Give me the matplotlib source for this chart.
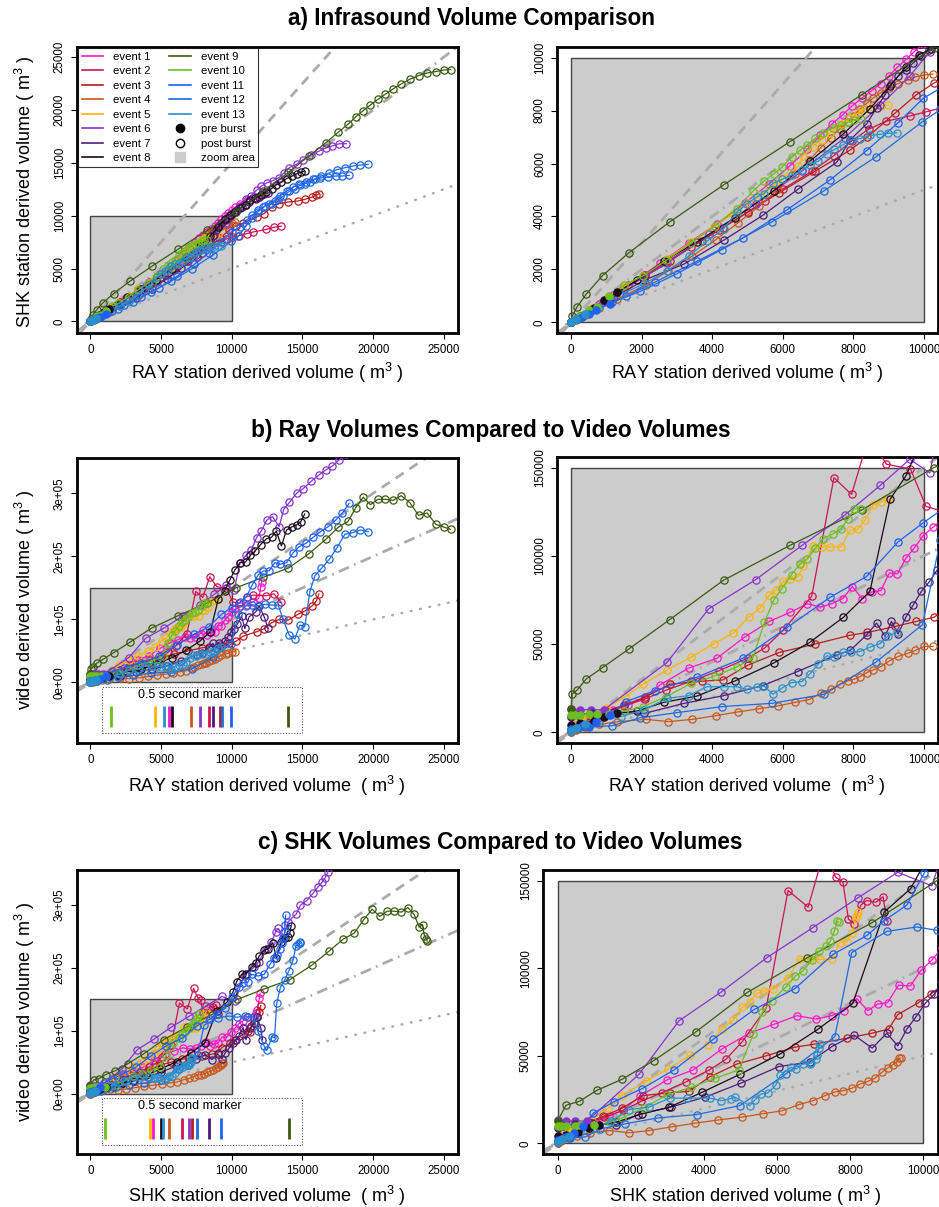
import numpy as np
import matplotlib
matplotlib.use('Agg')
import matplotlib.pyplot as plt
from matplotlib.patches import Rectangle
from matplotlib.lines import Line2D

plt.rcParams['font.family'] = ['Liberation Sans', 'DejaVu Sans']
plt.rcParams['mathtext.fontset'] = 'custom'
plt.rcParams['mathtext.rm'] = 'Liberation Sans'
plt.rcParams['mathtext.it'] = 'Liberation Sans:italic'

# per event: RAY volume, SHK volume, video volume (m^3), one value per frame
e1_ray = [0, 60, 150, 300, 500, 800, 1200, 1600, 2060, 2530, 3330, 4130, 4920, 5620, 6210, 6700, 7060, 7390, 7700, 7970,
          8250, 8520, 8780, 9020, 9250, 9490, 9730, 9980, 10250, 10570, 11040, 11500, 11910, 12050, 12120]
e1_shk = [0, 50, 130, 260, 440, 700, 1050, 1400, 1800, 2250, 3000, 3710, 4500, 5240, 5920, 6540, 7060, 7490, 7840, 8180,
          8480, 8750, 9020, 9320, 9640, 9930, 10230, 10500, 10800, 11100, 11500, 11700, 11800, 11950, 12000]
e1_vid = [1000, 2500, 4000, 6000, 8000, 10000, 12500, 15500, 19000, 27000, 36400, 42000, 54000, 62900, 68000, 72900,
          71000, 72900, 75800, 82600, 75800, 79500, 80300, 90300, 89800, 98700, 104500, 111400, 116100, 121700, 122800,
          128000, 133300, 151900, 159800]

e2_ray = [0, 100, 300, 600, 1000, 1500, 2100, 2700, 3400, 4200, 5000, 5500, 6020, 6820, 7450, 7950, 8440, 8940, 9620,
          10060, 10500, 11040, 11500, 12450, 12970, 13510]
e2_shk = [0, 90, 260, 520, 860, 1280, 1800, 2280, 2850, 3500, 4150, 4600, 5050, 5700, 6300, 6850, 7300, 7600, 7800,
          7950, 8100, 8290, 8450, 8700, 8900, 9000]
e2_vid = [1000, 3000, 5500, 8500, 12000, 15000, 19000, 24000, 29000, 35000, 42000, 48000, 58100, 77100, 144300, 134800,
          167700, 151900, 149200, 128000, 125400, 136000, 138600, 137600, 140700, 127000]

e3_ray = [0, 100, 300, 600, 1000, 1500, 2100, 2800, 3700, 4300, 5000, 5900, 6900, 7900, 8400, 9180, 9790, 10300, 10800,
          11750, 12290, 12810, 13350, 13990, 14650, 15160, 15700, 15990, 16160]
e3_shk = [0, 85, 250, 500, 830, 1250, 1750, 2330, 3080, 3580, 4160, 4900, 5700, 6500, 7000, 7900, 8600, 9050, 9300,
          9870, 10200, 10800, 11130, 11290, 11380, 11540, 11760, 11950, 12050]
e3_vid = [0, 2000, 5000, 8500, 12000, 15500, 20000, 27300, 29000, 29700, 38000, 45300, 50000, 55000, 56600, 60000,
          62900, 65300, 73500, 80400, 85200, 94700, 100000, 98900, 107900, 113200, 121700, 129600, 140200]

e4_ray = [0, 150, 400, 800, 1300, 2120, 2760, 3440, 4100, 4730, 5330, 5860, 6340, 6750, 7080, 7360, 7620, 7860, 8020,
          8190, 8380, 8570, 8780, 9020, 9270, 9560, 9750, 10010, 10260]
e4_shk = [0, 100, 270, 540, 880, 1410, 1950, 2510, 3120, 3760, 4390, 5030, 5610, 6130, 6600, 6980, 7310, 7580, 7810,
          8060, 8270, 8480, 8680, 8860, 9020, 9160, 9270, 9340, 9380]
e4_vid = [0, 1500, 3000, 4500, 6000, 7400, 6100, 7400, 9500, 11600, 13400, 15000, 17000, 18600, 22200, 24400, 27300,
          29400, 30100, 31600, 33900, 35400, 37300, 40500, 43000, 44900, 46400, 48700, 48700]

e5_ray = [0, 100, 300, 600, 1000, 1540, 2040, 2720, 3400, 4040, 4600, 5030, 5360, 5620, 5810, 6020, 6210, 6440, 6580,
          6850, 7100, 7340, 7650, 7910, 8120, 8330, 8570, 8780, 8990]
e5_shk = [0, 90, 270, 540, 900, 1390, 1750, 2410, 3030, 3620, 4100, 4500, 4800, 5050, 5250, 5450, 5650, 5900, 6300,
          6620, 6900, 7160, 7490, 7720, 7900, 8050, 8150, 8180, 8200]
e5_vid = [2000, 4000, 7000, 10000, 14000, 20300, 27300, 35400, 42600, 50200, 56300, 65300, 70500, 77700, 80900, 85600,
          87100, 88300, 94500, 105500, 105100, 105100, 105100, 114600, 115000, 120300, 128800, 130500, 132000]

e6_ray = [0, 260, 550, 920, 2720, 3900, 5230, 6550, 7750, 8770, 9600, 10170, 10570, 11010, 11370, 11750, 12100, 12480,
          12880, 13350, 13660, 14080, 14580, 15050, 15610, 16160, 16650, 17120, 17590, 18100]
e6_shk = [0, 220, 470, 800, 2230, 3320, 4480, 5720, 6970, 8200, 9300, 10230, 10900, 11600, 11900, 12400, 12800, 13100,
          13300, 13600, 14000, 14550, 14850, 15300, 15750, 16100, 16400, 16600, 16800, 16800]
e6_vid = [13300, 12700, 12900, 12700, 39600, 70000, 86500, 106000, 123000, 140000, 154700, 147000, 189000, 202000,
          210000, 229600, 240700, 257700, 263000, 247000, 274000, 285700, 300000, 307400, 319000, 329000, 337000,
          343400, 353000, 362000]

e7_ray = [0, 200, 600, 1210, 2080, 3210, 4320, 5430, 6420, 7530, 7910, 8380, 8660, 8900, 9080, 9270, 9490, 9700, 9930,
          10150, 10380, 10690, 10920, 11230, 11700, 11930, 12290, 12570]
e7_shk = [0, 160, 480, 950, 1600, 2210, 3100, 4040, 5020, 6050, 6890, 7500, 8100, 8600, 9000, 9300, 9550, 9800, 10050,
          10300, 10500, 10800, 11000, 11300, 11600, 11800, 12050, 12170]
e7_vid = [9000, 10000, 11000, 11400, 10800, 16500, 20800, 26500, 34500, 43900, 46400, 55300, 61900, 54400, 62900, 55700,
          65300, 72300, 79900, 85200, 92100, 105300, 85700, 104200, 112200, 121700, 104200, 85700]

e8_ray = [0, 260, 640, 940, 1300, 1870, 2620, 3570, 4650, 5750, 6770, 7720, 8470, 9040, 9490, 9860, 10210, 10570, 10970,
          11320, 11650, 12030, 12450, 12810, 13140, 13510, 13870, 14270, 14580, 14880, 15160]
e8_shk = [0, 240, 560, 850, 1130, 1590, 2310, 3040, 3950, 4980, 6090, 7120, 8070, 8930, 9650, 10100, 10340, 10700,
          10970, 11440, 11700, 11920, 12250, 12550, 12900, 13150, 13500, 13750, 13950, 14100, 14200]
e8_vid = [4000, 5100, 6400, 8900, 10800, 12100, 17000, 20600, 29200, 39400, 51100, 65200, 79900, 132000, 145300, 162400,
          178300, 190000, 191000, 202100, 208500, 218500, 228000, 230200, 240200, 216400, 241800, 247100, 249700,
          255000, 267200]

e9_ray = [0, 30, 170, 430, 890, 1640, 2790, 4320, 6210, 8240, 10280, 12220, 14010, 15450, 16650, 17520, 18230, 18770,
          19290, 19810, 20330, 20870, 21420, 21980, 22590, 23210, 23820, 24430, 24980, 25470]
e9_shk = [0, 230, 590, 1070, 1770, 2630, 3790, 5190, 6830, 8600, 10380, 12290, 14100, 15640, 16890, 17880, 18660, 19340,
          19930, 20470, 20990, 21490, 22000, 22450, 22900, 23250, 23490, 23630, 23770, 23820]
e9_vid = [13000, 21800, 24000, 30300, 36700, 47300, 63800, 86200, 106000, 126000, 150000, 166700, 181500, 204200,
          227000, 246000, 255600, 277200, 293700, 282000, 290500, 290500, 288900, 296300, 285200, 265100, 268800,
          250800, 246600, 242900]

e10_ray = [0, 100, 250, 500, 740, 1070, 1510, 2030, 2700, 3400, 4080, 4700, 5150, 5480, 5740, 5970, 6250, 6490, 6700,
           6920, 7150, 7430, 7640, 7860, 8020, 8220]
e10_shk = [0, 90, 230, 480, 600, 1000, 1420, 1750, 2350, 3000, 3650, 4300, 4950, 5350, 5600, 5850, 6250, 6500, 6700,
           6950, 7150, 7350, 7450, 7560, 7650, 7680]
e10_vid = [9700, 9800, 10000, 10200, 10300, 10400, 12000, 14500, 20300, 27800, 32000, 37100, 42000, 62300, 74800, 81400,
           89400, 95500, 98300, 104500, 109800, 112500, 115300, 121000, 126700, 126300]

e11_ray = [0, 300, 700, 1100, 1550, 2390, 3570, 4870, 6130, 7340, 8380, 9270, 9980, 10570, 11040, 11440, 11860, 12220,
           12640, 13040, 13400, 13870, 14340, 14760, 15240, 15750, 16270, 16820, 17360, 17830, 18300]
e11_shk = [0, 200, 450, 700, 980, 1530, 2310, 3190, 4260, 5380, 6490, 7540, 8460, 8920, 9550, 10030, 10500, 10800,
           11130, 11400, 11850, 12300, 12700, 12960, 13180, 13430, 13560, 13650, 13750, 13750, 13810]
e11_vid = [2000, 3500, 6000, 10000, 17400, 23700, 31300, 42000, 59500, 76500, 88400, 108000, 118700, 127000, 136000,
           154500, 170400, 176700, 177200, 190000, 187300, 190000, 205800, 215300, 220600, 230200, 239200, 247100,
           257700, 269000, 284000]

e12_ray = [0, 200, 500, 1160, 1960, 3000, 4270, 5700, 7180, 8640, 9960, 10470, 10970, 11440, 11860, 12330, 12810, 13280,
           13630, 14060, 14460, 14810, 15160, 15520, 15870, 16340, 16890, 17410, 17990, 18540, 19100, 19650]
e12_shk = [0, 130, 330, 760, 1170, 1840, 2750, 3800, 4980, 6250, 7580, 8040, 9000, 9820, 10370, 10910, 11130, 11540,
           11820, 12300, 12480, 12860, 13020, 13180, 13430, 13750, 14030, 14340, 14530, 14690, 14790, 14850]
e12_vid = [1500, 2500, 3000, 3800, 8300, 11200, 14600, 16500, 21600, 39800, 61000, 108900, 121000, 123500, 121600,
           123800, 122800, 122800, 100000, 75100, 68800, 91000, 88400, 143900, 168800, 181000, 195200, 212700, 234900,
           237600, 241800, 239200]

e13_ray = [0, 150, 400, 800, 1400, 2060, 2720, 3330, 3850, 4320, 4700, 4980, 5260, 5470, 5720, 5970, 6250, 6540, 6770,
           7010, 7250, 7460, 7700, 7920, 8190, 8470, 8750, 8990, 9230]
e13_shk = [0, 110, 300, 600, 1050, 1450, 1950, 2500, 3060, 3540, 4160, 4480, 4730, 4860, 5250, 5400, 5560, 5740, 5960,
           6090, 6370, 6530, 6700, 6890, 6940, 7060, 7100, 7140, 7160]
e13_vid = [1000, 2500, 4500, 6500, 8900, 12700, 19300, 20800, 25900, 25900, 25900, 24400, 25600, 26300, 21600, 25000,
           28200, 28800, 33100, 38800, 43400, 42600, 45300, 45600, 45800, 48300, 50200, 54700, 56600]

# number of pre-burst frames at the start of each event
n_pre = [4, 3, 2, 3, 3, 4, 3, 5, 1, 6, 4, 3, 3]

# volume reached 0.5 s after burst (RAY and SHK)
half_sec_ray = [5591, 8421, 9171, 7098, 4573, 7735, 8655, 5754, 13983, 1488, 9949, 9291, 5237]
half_sec_shk = [4450, 6500, 7160, 5590, 4230, 7000, 8360, 5010, 14050, 1060, 9260, 7520, 5140]

labels = ['event %d' % i for i in range(1, 14)]
colors = ['#FF14C8', '#CC1452', '#B81C1C', '#C8581A', '#FFB400', '#8A32D0', '#4B1C7A',
          '#1A0A1A', '#3B5A10', '#6DBE1E', '#1F5FFF', '#1E6AE0', '#2A90CC']

events = [
    (e1_ray, e1_shk, e1_vid), (e2_ray, e2_shk, e2_vid), (e3_ray, e3_shk, e3_vid),
    (e4_ray, e4_shk, e4_vid), (e5_ray, e5_shk, e5_vid), (e6_ray, e6_shk, e6_vid),
    (e7_ray, e7_shk, e7_vid), (e8_ray, e8_shk, e8_vid), (e9_ray, e9_shk, e9_vid),
    (e10_ray, e10_shk, e10_vid), (e11_ray, e11_shk, e11_vid), (e12_ray, e12_shk, e12_vid),
    (e13_ray, e13_shk, e13_vid),
]

W, H = 939, 1207
fig = plt.figure(figsize=(W / 100, H / 100), dpi=100)


def px_axes(x0, y0, x1, y1):
    return fig.add_axes([x0 / W, 1 - y1 / H, (x1 - x0) / W, (y1 - y0) / H])


def draw(ax, xi, yi, slopes, rect_h):
    ax.add_patch(Rectangle((0, 0), 10000, rect_h, fc='#CCCCCC', ec='#444444', lw=1, zorder=1))
    ax.axline((0, 0), slope=slopes[0], color='#ABABAB', lw=2, ls=(0, (3.5, 2.5)), zorder=2)
    ax.axline((0, 0), slope=slopes[1], color='#ABABAB', lw=2, ls=(0, (4, 2, 0.6, 2)), zorder=2)
    ax.axline((0, 0), slope=slopes[2], color='#ABABAB', lw=1.8, ls=(0, (0.3, 3.5)),
              dash_capstyle='round', zorder=2)
    for k, ev in enumerate(events):
        x = np.array(ev[xi])
        y = np.array(ev[yi])
        n = n_pre[k]
        c = colors[k]
        ax.plot(x, y, color=c, lw=0.9, zorder=3)
        ax.plot(x[n:], y[n:], ls='none', marker='o', ms=5.2, mfc='none', mec=c, mew=0.9, zorder=3)
        ax.plot(x[:n], y[:n], ls='none', marker='o', ms=5.2, mfc=c, mec=c, mew=0.9, zorder=4)


def style(ax, xlim, ylim, xticks, yticks, ylabels=None):
    ax.set_xlim(xlim)
    ax.set_ylim(ylim)
    ax.set_xticks(xticks)
    ax.set_xticklabels([str(v) for v in xticks])
    ax.set_yticks(yticks)
    ax.set_yticklabels(ylabels if ylabels else [str(v) for v in yticks])
    ax.tick_params(direction='out', length=4, width=0.8, labelsize=8.3, pad=4)
    ax.tick_params(axis='y', labelrotation=90)
    for lab in ax.get_yticklabels():
        lab.set_va('center')
    for s in ax.spines.values():
        s.set_linewidth(2)


def marker_box(ax, xs, box, text_x, text_y, seg):
    ax.add_patch(Rectangle((box[0], box[2]), box[1] - box[0], box[3] - box[2], fill=False,
                           ls=(0, (1, 1.5)), lw=0.8, ec='#555555', zorder=3))
    ax.text(text_x, text_y, '0.5 second marker', ha='center', va='center', fontsize=9, zorder=4)
    for k in range(len(xs)):
        ax.plot([xs[k], xs[k]], seg, color=colors[k], lw=2, solid_capstyle='butt', zorder=4)


big = [0, 5000, 10000, 15000, 20000, 25000]
small = [0, 2000, 4000, 6000, 8000, 10000]
vticks = [0, 100000, 200000, 300000]
vlabels = ['0e+00', '1e+05', '2e+05', '3e+05']
vsmall = [0, 50000, 100000, 150000]

# a) RAY vs SHK
ax = px_axes(77, 47, 458, 333)
draw(ax, 0, 1, (1.5, 1.0, 0.5), 10000)
style(ax, (-950, 26000), (-1100, 25950), big, big)
handles = [Line2D([], [], color=c, lw=1.2) for c in colors]
handles += [Line2D([], [], ls='none', marker='o', ms=6, mfc='k', mec='k'),
            Line2D([], [], ls='none', marker='o', ms=6, mfc='none', mec='k', mew=1),
            Line2D([], [], ls='none', marker='s', ms=7, mfc='#CCCCCC', mec='#CCCCCC')]
leg = ax.legend(handles, labels + ['pre burst', 'post burst', 'zoom area'], loc='upper left',
                bbox_to_anchor=(0, 1), borderaxespad=0.1, ncol=2, fontsize=8.2, frameon=True,
                fancybox=False, edgecolor='black', handlelength=1.9, handletextpad=0.9,
                columnspacing=1.6, labelspacing=0.4, borderpad=0.3)
leg.get_frame().set_linewidth(0.8)
leg.set_zorder(10)

ax = px_axes(557, 47, 938, 333)
draw(ax, 0, 1, (1.5, 1.0, 0.5), 10000)
style(ax, (-400, 10400), (-400, 10400), small, small)

# b) RAY vs video
ax = px_axes(77, 458, 458, 743)
draw(ax, 0, 2, (15, 10, 5), 150000)
style(ax, (-950, 26000), (-96000, 356000), big, vticks, vlabels)
marker_box(ax, half_sec_ray, (825, 15000, -79900, -6900), 7000, -20000, (-37000, -71400))

ax = px_axes(557, 457, 938, 743)
draw(ax, 0, 2, (15, 10, 5), 150000)
style(ax, (-400, 10400), (-6000, 156000), small, vsmall)

# c) SHK vs video
ax = px_axes(77, 870, 458, 1154)
draw(ax, 1, 2, (15, 10, 5), 150000)
style(ax, (-950, 26000), (-96000, 356000), big, vticks, vlabels)
marker_box(ax, half_sec_shk, (825, 15000, -80900, -7400), 7000, -19700, (-39400, -72900))

ax = px_axes(543, 870, 938, 1154)
draw(ax, 1, 2, (15, 10, 5), 150000)
style(ax, (-400, 10400), (-6000, 156000), small, vsmall)

# titles and axis labels
tfs = 16.3
fig.text(472 / W, 1 - 18 / H, 'a) Infrasound Volume Comparison', ha='center', va='center',
         fontsize=tfs, fontweight='bold')
fig.text(491 / W, 1 - 430 / H, 'b) Ray Volumes Compared to Video Volumes', ha='center', va='center',
         fontsize=tfs, fontweight='bold')
fig.text(500 / W, 1 - 842 / H, 'c) SHK Volumes Compared to Video Volumes', ha='center', va='center',
         fontsize=tfs, fontweight='bold')

lfs = 13
m3 = r'( m$^3$ )'
fig.text(267 / W, 1 - 373 / H, 'RAY station derived volume ' + m3, ha='center', va='center', fontsize=lfs)
fig.text(747 / W, 1 - 373 / H, 'RAY station derived volume ' + m3, ha='center', va='center', fontsize=lfs)
fig.text(267 / W, 1 - 786 / H, 'RAY station derived volume  ' + m3, ha='center', va='center', fontsize=lfs)
fig.text(747 / W, 1 - 786 / H, 'RAY station derived volume  ' + m3, ha='center', va='center', fontsize=lfs)
fig.text(267 / W, 1 - 1196 / H, 'SHK station derived volume  ' + m3, ha='center', va='center', fontsize=lfs)
fig.text(745 / W, 1 - 1196 / H, 'SHK station derived volume ' + m3, ha='center', va='center', fontsize=lfs)
fig.text(25 / W, 1 - 192 / H, 'SHK station derived volume ' + m3, ha='center', va='center', fontsize=lfs,
         rotation=90)
fig.text(25 / W, 1 - 600 / H, 'video derived volume ' + m3, ha='center', va='center', fontsize=lfs, rotation=90)
fig.text(25 / W, 1 - 1012 / H, 'video derived volume ' + m3, ha='center', va='center', fontsize=lfs, rotation=90)

fig.savefig('out.png', dpi=100)
